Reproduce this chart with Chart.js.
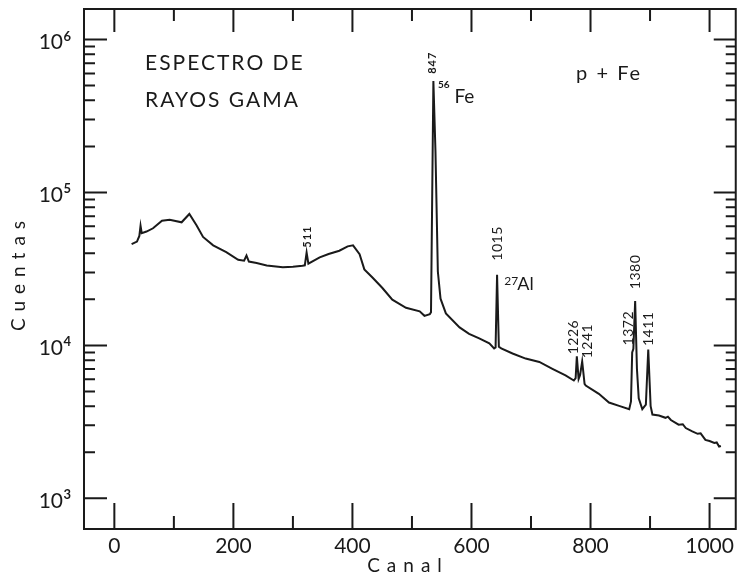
<!DOCTYPE html>
<html><head><meta charset="utf-8">
<script src="https://cdn.jsdelivr.net/npm/chart.js@4.4.1/dist/chart.umd.min.js"></script>
<style>html,body{margin:0;padding:0;background:#fff;}#wrap{width:739px;height:582px;}</style>
</head><body><div id="wrap"><canvas id="c" width="739" height="582"></canvas></div>
<script>
// Spectrum (channel vs counts)
const channels = [29,38,42,44,46,54,65,80,93,113,126,138,149,166,188,208,218,222,226,239,256,283,300,316,320,323,326,345,360,378,392,401,412,420,434,450,467,490,513,521,530,532,536,539.5,543.5,548,557,580,596,613,630,638,640.5,643,646,650,669,691,714,736,758,772,775,777,780,782.5,786,790,792,814,831,848,865,868,870,872,875,878,881,887,893,897,901,904,915,926,930,935,948,955,960,971,980,985,993,1000,1008,1012,1016,1019];
const counts = [45900,47700,52000,60600,54200,55500,58300,65400,66200,63800,72300,61100,51200,45100,40700,36300,35800,38700,35300,34600,33300,32400,32700,33200,33400,40500,34200,37600,39600,41600,44400,45100,39500,31400,27700,23800,19900,17600,16700,15600,16000,16500,535000,186000,30400,20200,16200,13100,11900,11100,10300,9550,9700,28900,9800,9550,8850,8200,7790,7030,6360,5890,6100,8490,6030,6400,7850,5600,5460,4820,4230,4020,3820,4300,8980,9500,19500,7000,4500,3830,4100,9400,4000,3530,3480,3360,3420,3250,3030,3050,2880,2740,2640,2660,2410,2370,2300,2320,2180,2200];

// Axis ticks
const xTickValues = [0,200,400,600,800,1000];
const xMinorTickValues = [100,300,500,700,900];
const yTickValues = [1e3,1e4,1e5,1e6];
const yTickExponents = ['3','4','5','6'];
const yMinorMultipliers = [2,3,4,5,6,7,8,9];
const yMinorDecades = [1e3,1e4,1e5];

// Peak energy labels (keV) and where they sit (channel, counts at the lower end of the text)
const peakLabels = ['847','511','1015','1226','1241','1372','1380','1411'];
const peakLabelChannels = [534.3,324.8,642.9,770.8,795.1,863.9,875.9,898.2];
const peakLabelCounts = [597000,43500,35800,8750,8230,10000,23300,9900];

const FONT = 'Lato, "Open Sans", "DejaVu Sans", sans-serif';
const INK = '#1a1a1a';

const notes = [
  {text:'ESPECTRO DE', ch:51.5, y:631000, size:21, spacing:2},
  {text:'RAYOS GAMA', ch:51.5, y:364000, size:21, spacing:2},
  {text:'p + Fe', ch:775.8, y:541600, size:20, spacing:2}
];
const isotopes = [
  {sup:'56', base:'Fe', supCh:543.6, supY:482000, ch:571.3, y:387000, supSize:10, supWeight:'bold', size:19},
  {sup:'27', base:'Al', supCh:655, supY:24900, ch:677, y:23100, supSize:12, supWeight:'normal', size:18}
];

const drawPlugin = {
  id:'drawPlugin',
  afterDatasetsDraw(chart){
    const ctx = chart.ctx, a = chart.chartArea;
    const xs = chart.scales.x, ys = chart.scales.y;
    ctx.save();
    ctx.strokeStyle = INK; ctx.fillStyle = INK;
    // frame
    ctx.lineWidth = 2;
    ctx.strokeRect(a.left, a.top, a.right - a.left, a.bottom - a.top);
    // x ticks
    ctx.beginPath();
    xTickValues.forEach(v=>{
      const p = xs.getPixelForValue(v);
      ctx.moveTo(p, a.bottom); ctx.lineTo(p, a.bottom - 26);
      ctx.moveTo(p, a.top); ctx.lineTo(p, a.top + 23);
    });
    xMinorTickValues.forEach(v=>{
      const p = xs.getPixelForValue(v);
      ctx.moveTo(p, a.bottom); ctx.lineTo(p, a.bottom - 13);
      ctx.moveTo(p, a.top); ctx.lineTo(p, a.top + 12);
    });
    // y ticks
    yTickValues.forEach(v=>{
      const p = ys.getPixelForValue(v);
      ctx.moveTo(a.left, p); ctx.lineTo(a.left + 23, p);
      ctx.moveTo(a.right, p); ctx.lineTo(a.right - 22, p);
    });
    yMinorDecades.forEach(d=>{
      yMinorMultipliers.forEach(m=>{
        const p = ys.getPixelForValue(d*m);
        if (p < a.top || p > a.bottom) return;
        ctx.moveTo(a.left, p); ctx.lineTo(a.left + 11, p);
        ctx.moveTo(a.right, p); ctx.lineTo(a.right - 10, p);
      });
    });
    ctx.stroke();

    // y tick labels 10^n
    yTickValues.forEach((v,i)=>{
      const p = ys.getPixelForValue(v);
      ctx.font = '21px ' + FONT;
      ctx.textAlign = 'right'; ctx.textBaseline = 'alphabetic';
      ctx.fillText('10', 63, p + 9.5);
      ctx.font = 'bold 13px ' + FONT;
      ctx.textAlign = 'left';
      ctx.fillText(yTickExponents[i], 63.5, p + 1);
    });

    // axis titles
    ctx.font = '19px ' + FONT;
    if ('letterSpacing' in ctx) ctx.letterSpacing = '7px';
    ctx.textAlign = 'center'; ctx.textBaseline = 'middle';
    ctx.save();
    ctx.translate(18.5, 276);
    ctx.rotate(-Math.PI/2);
    ctx.fillText('Cuentas', 3.5, 0);
    ctx.restore();
    ctx.fillText('Canal', 408, 566);
    if ('letterSpacing' in ctx) ctx.letterSpacing = '0px';

    // peak labels
    peakLabels.forEach((t,i)=>{
      const px = xs.getPixelForValue(peakLabelChannels[i]);
      const py = ys.getPixelForValue(peakLabelCounts[i]);
      const bold = (t === '847' || t === '511');
      ctx.font = bold ? 'bold 11px ' + FONT : '14px ' + FONT;
      if ('letterSpacing' in ctx) ctx.letterSpacing = bold ? '1px' : '0.5px';
      ctx.save();
      ctx.translate(px, py);
      ctx.rotate(-Math.PI/2);
      ctx.textAlign = 'left'; ctx.textBaseline = 'middle';
      ctx.fillText(t, 0, 0);
      ctx.restore();
    });
    if ('letterSpacing' in ctx) ctx.letterSpacing = '0px';

    // notes
    notes.forEach(n=>{
      ctx.font = n.size + 'px ' + FONT;
      if ('letterSpacing' in ctx) ctx.letterSpacing = n.spacing + 'px';
      ctx.textAlign = 'left'; ctx.textBaseline = 'alphabetic';
      ctx.fillText(n.text, xs.getPixelForValue(n.ch), ys.getPixelForValue(n.y));
    });
    if ('letterSpacing' in ctx) ctx.letterSpacing = '0px';
    isotopes.forEach(n=>{
      ctx.textAlign = 'left'; ctx.textBaseline = 'alphabetic';
      ctx.font = n.supWeight + ' ' + n.supSize + 'px ' + FONT;
      ctx.fillText(n.sup, xs.getPixelForValue(n.supCh), ys.getPixelForValue(n.supY));
      ctx.font = n.size + 'px ' + FONT;
      ctx.fillText(n.base, xs.getPixelForValue(n.ch), ys.getPixelForValue(n.y));
    });
    ctx.restore();
  }
};

new Chart(document.getElementById('c'), {
  type:'line',
  data:{datasets:[{
    label:'Cuentas',
    data: channels.map((c,i)=>({x:c, y:counts[i]})),
    borderColor: INK, borderWidth: 2, pointRadius: 0, tension: 0, fill: false
  }]},
  options:{
    responsive:false, animation:false,
    layout:{padding:{left:0, right:2, top:9, bottom:0}},
    plugins:{legend:{display:false}, tooltip:{enabled:false}},
    scales:{
      x:{
        type:'linear', min:-51, max:1044,
        grid:{display:false, drawTicks:false}, border:{display:false},
        afterBuildTicks: s => { s.ticks = xTickValues.map(v=>({value:v})); },
        ticks:{font:{family:FONT, size:21}, color:INK, padding:5, maxRotation:0, autoSkip:false,
               callback: v => String(v)},
        afterFit: s => { s.height = 53; }
      },
      y:{
        type:'logarithmic', min:630, max:1.583e6,
        grid:{display:false, drawTicks:false}, border:{display:false},
        ticks:{display:false},
        afterFit: s => { s.width = 84; }
      }
    }
  },
  plugins:[drawPlugin]
});
</script>
</body></html>
